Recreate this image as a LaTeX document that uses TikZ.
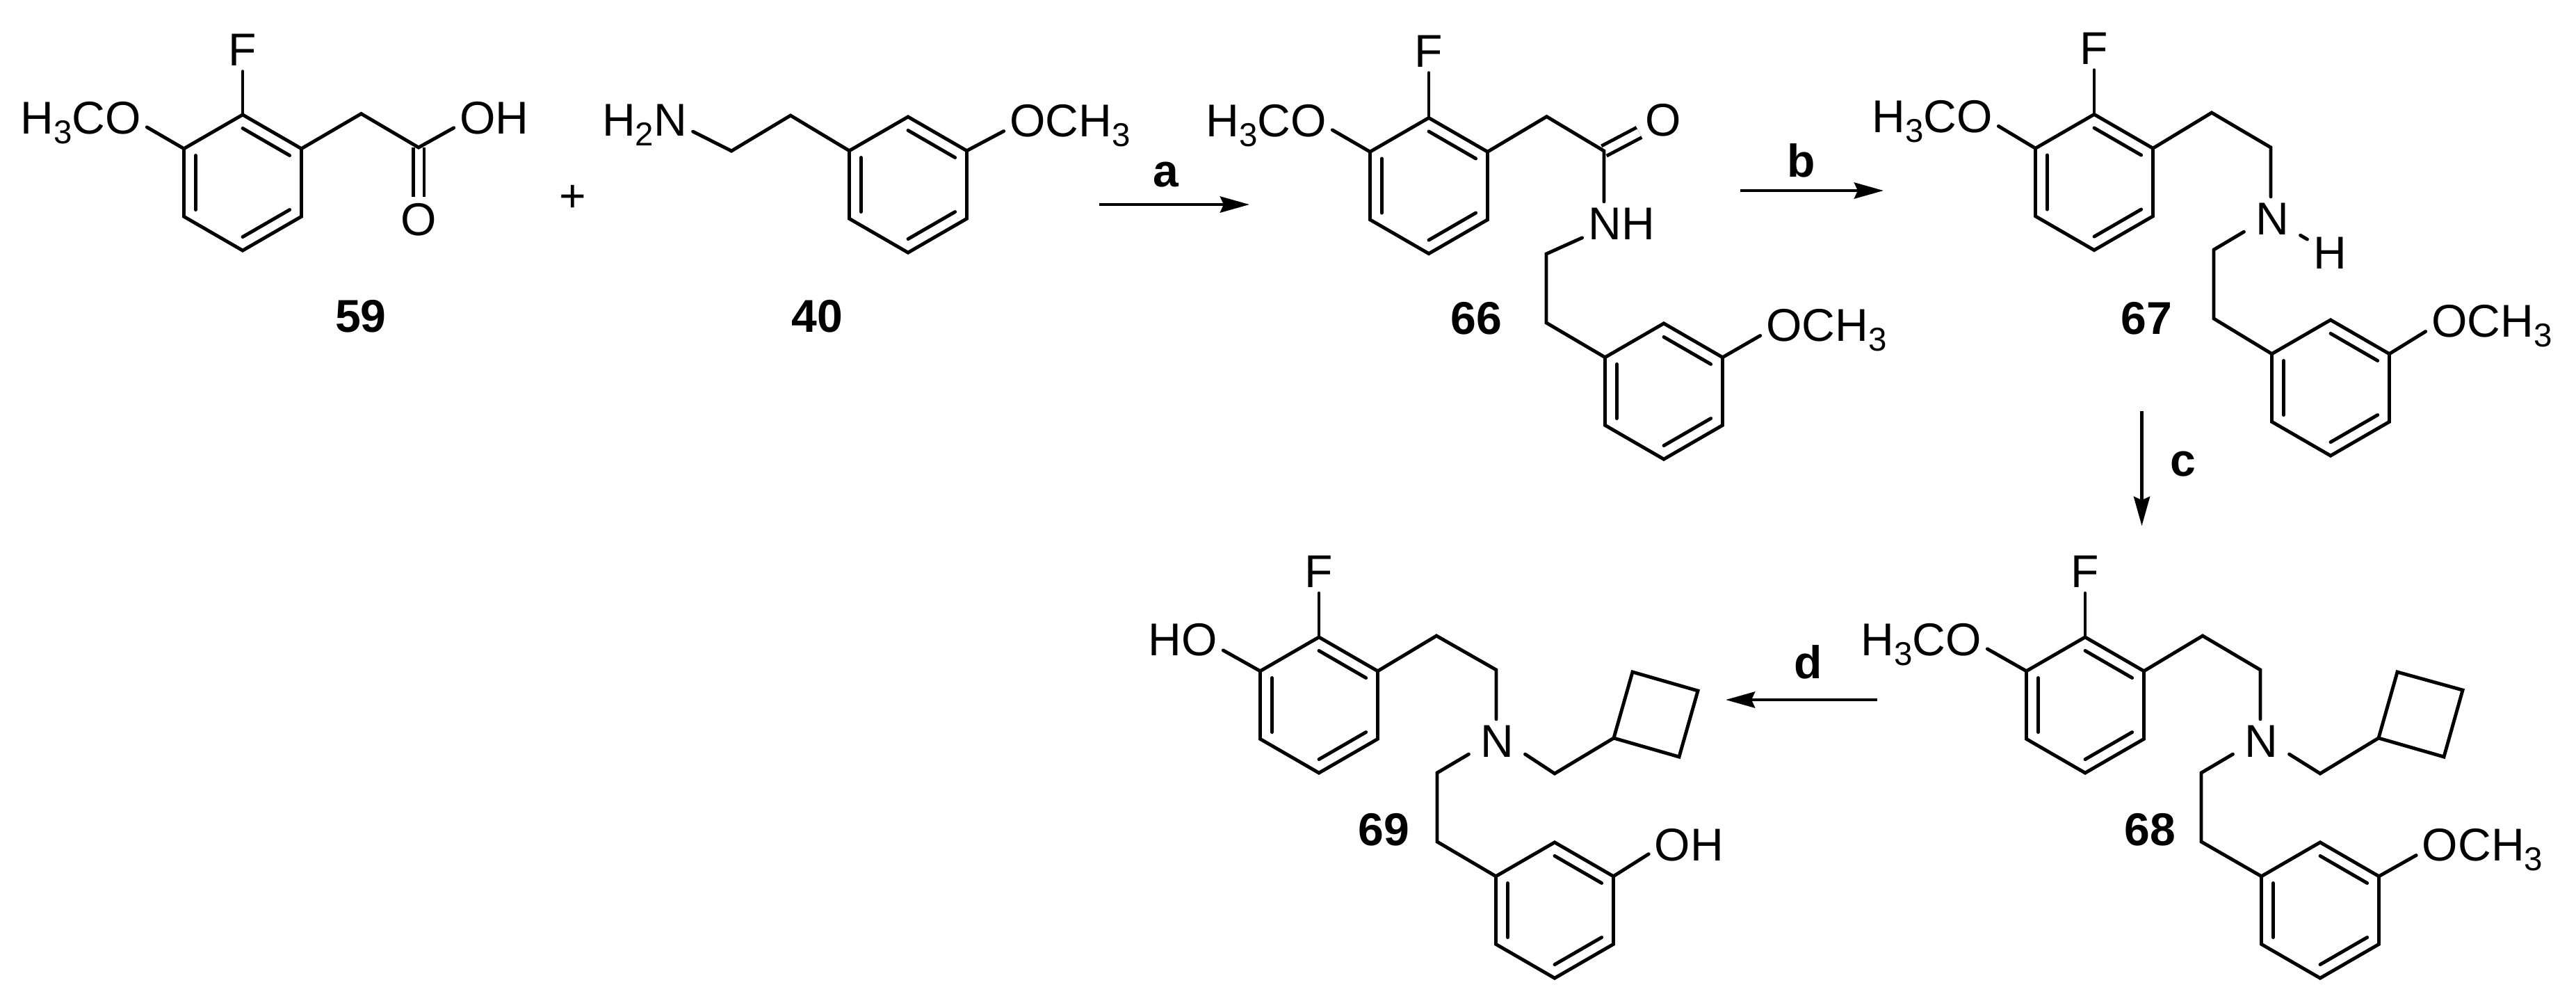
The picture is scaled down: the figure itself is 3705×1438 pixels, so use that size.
\documentclass[tikz,border=0pt]{standalone}
\usepackage{fontspec}
\setmainfont{Liberation Sans}
\usepackage{tikz}
\usetikzlibrary{arrows.meta,calc}

\newcommand{\lowidx}[1]{\raisebox{-4pt}{\fontsize{13.5}{13.5}\selectfont #1}}
\newcommand{\benzring}[3]{%
\begin{scope}[shift={(#2,#3)}]
\coordinate (#1t) at (0,-97.6); \coordinate (#1ur) at (84.5,-48.8); \coordinate (#1lr) at (84.5,48.8); \coordinate (#1b) at (0,97.6); \coordinate (#1ll) at (-84.5,48.8); \coordinate (#1ul) at (-84.5,-48.8);
\draw[bond] (#1t) -- (#1ur) -- (#1lr) -- (#1b) -- (#1ll) -- (#1ul) -- cycle;
\draw[bond] ($(0,0)!0.8!(#1t)$) -- ($(0,0)!0.8!(#1ur)$);
\draw[bond] ($(0,0)!0.8!(#1lr)$) -- ($(0,0)!0.8!(#1b)$);
\draw[bond] ($(0,0)!0.8!(#1ll)$) -- ($(0,0)!0.8!(#1ul)$);
\end{scope}}

\tikzset{
  bond/.style={line width=1.4pt, line cap=round},
  dbond/.style={line width=1.4pt, double, double distance=.11cm},
  atom/.style={anchor=base, inner sep=.08cm, font=\fontsize{18.8}{20}\selectfont},
  amine/.style={atom, inner xsep=.16cm},
  cmpd/.style={anchor=base, inner sep=0pt, font=\fontsize{18.8}{20}\selectfont\bfseries},
  rxn/.style={line width=1.4pt, -{Stealth[length=.42cm,width=.23cm,inset=.05cm]}}
}

\begin{document}
\begin{tikzpicture}[x=0.01cm,y=-0.01cm]
\useasboundingbox (0,0) rectangle (3705,1438);

% 59
\benzring{ra}{349}{262.5}
\node[atom] (f59) at (349,94) {F}; \node[atom] (ome59) at (116,192) {H\lowidx{3}CO}; \node[atom] (oh59) at (711,192) {OH}; \node[atom] (o59) at (602,338) {O};
\coordinate (ka59) at (519.5,163.5); \coordinate (kb59) at (602,212);
\draw[dbond] (kb59) -- (o59);
\draw[bond] (rat) -- (f59); \draw[bond] (raul) -- (ome59.-4); \draw[bond] (raur) -- (ka59) -- (kb59) -- (oh59.194);
\node[cmpd] (n59) at (519,477) {59};
\node[atom, anchor=center] (plus) at (824,285) {+};

% 40
\benzring{rb}{1306}{265.5}
\node[atom] (nh40) at (927,195) {H\lowidx{2}N}; \node[atom] (ome40) at (1539,196) {OCH\lowidx{3}};
\coordinate (ka40) at (1052,217); \coordinate (kb40) at (1137,166);
\draw[bond] (nh40.-8) -- (ka40) -- (kb40) -- (rbul); \draw[bond] (rbur) -- (ome40.185);
\node[cmpd] (n40) at (1175,477) {40};

% a
\coordinate (aa) at (1581,294); \coordinate (ab) at (1797,294);
\draw[rxn] (aa) -- (ab);
\node[cmpd] (la) at (1677,268) {a};

% 66
\benzring{rc}{2055}{267}
\benzring{rd}{2393}{562.5}
\node[atom] (f66) at (2055,96) {F}; \node[atom] (ome66) at (1821,196) {H\lowidx{3}CO}; \node[atom] (o66) at (2392,195) {O}; \node[atom] (nh66) at (2332,344) {NH}; \node[atom] (om66) at (2627,490) {OCH\lowidx{3}};
\coordinate (ka66) at (2224.5,167.6); \coordinate (kb66) at (2307,217); \coordinate (kc66) at (2224,365); \coordinate (kd66) at (2224,464);
\draw[dbond] (kb66) -- (o66);
\draw[bond] (rct) -- (f66); \draw[bond] (rcul) -- (ome66.-4); \draw[bond] (rcur) -- (ka66) -- (kb66) -- (kb66 |- nh66.north);
\draw[bond] (nh66.200) -- (kc66) -- (kd66) -- (rdul); \draw[bond] (rdur) -- (om66.185);
\node[cmpd] (n66) at (2123,480) {66};

% b
\coordinate (ba) at (2503,274); \coordinate (bb) at (2709,274);
\draw[rxn] (ba) -- (bb);
\node[cmpd] (lb) at (2591,254) {b};

% 67
\benzring{re}{3012}{262}
\benzring{rf}{3352}{557.5}
\node[atom] (f67) at (3012,92) {F}; \node[atom] (ome67) at (2779,190.5) {H\lowidx{3}CO}; \node[amine] (n67) at (3268,337) {N}; \node[atom] (h67) at (3351,386) {H}; \node[atom] (om67) at (3584,484) {OCH\lowidx{3}};
\coordinate (ka67) at (3181,162); \coordinate (kb67) at (3266,212); \coordinate (kc67) at (3184,359); \coordinate (kd67) at (3184,458);
\draw[bond] (ret) -- (f67); \draw[bond] (reul) -- (ome67.-4); \draw[bond] (reur) -- (ka67) -- (kb67) -- (kb67 |- n67.north);
\draw[bond] (n67.205) -- (kc67) -- (kd67) -- (rful); \draw[bond] (rfur) -- (om67.185);
\draw[bond] (n67) -- (h67);
\node[cmpd] (n67l) at (3087,480) {67};

% c
\coordinate (ca) at (3080.5,591); \coordinate (cb) at (3080.5,756);
\draw[rxn] (ca) -- (cb);
\node[cmpd] (lc) at (3140,684) {c};

% 68
\benzring{rg}{2999}{1013.5}
\benzring{rh}{3337}{1308.5}
\node[atom] (f68) at (2999,844) {F}; \node[atom] (ome68) at (2763,942) {H\lowidx{3}CO}; \node[amine] (n68) at (3252,1088) {N}; \node[atom] (om68) at (3570.5,1237) {OCH\lowidx{3}};
\coordinate (ka68) at (3168,914); \coordinate (kb68) at (3251,963); \coordinate (kc68) at (3166,1111); \coordinate (kd68) at (3166,1210); \coordinate (ke68) at (3337,1112);
\coordinate (qa68) at (3421,1061); \coordinate (qb68) at (3448,966); \coordinate (qc68) at (3542,992); \coordinate (qd68) at (3515,1088);
\draw[bond] (rgt) -- (f68); \draw[bond] (rgul) -- (ome68.-4); \draw[bond] (rgur) -- (ka68) -- (kb68) -- (kb68 |- n68.north);
\draw[bond] (n68.205) -- (kc68) -- (kd68) -- (rhul); \draw[bond] (rhur) -- (om68.185);
\draw[bond] (n68.-25) -- (ke68) -- (qa68); \draw[bond] (qa68) -- (qb68) -- (qc68) -- (qd68) -- cycle;
\node[cmpd] (n68l) at (3092,1215) {68};

% d
\coordinate (da) at (2700,1006); \coordinate (db) at (2482,1006);
\draw[rxn] (da) -- (db);
\node[cmpd] (ld) at (2601,975) {d};

% 69
\benzring{ri}{1897}{1013.5}
\benzring{rj}{2236}{1308.5}
\node[atom] (f69) at (1897,844) {F}; \node[atom] (oh69) at (1701,942) {HO}; \node[amine] (n69) at (2153,1088) {N}; \node[atom] (ohb69) at (2429.5,1237) {OH};
\coordinate (ka69) at (2066,914); \coordinate (kb69) at (2152,963); \coordinate (kc69) at (2067,1111); \coordinate (kd69) at (2067,1210); \coordinate (ke69) at (2236,1112);
\coordinate (qa69) at (2321,1061); \coordinate (qb69) at (2348,966); \coordinate (qc69) at (2442,993); \coordinate (qd69) at (2415,1088);
\draw[bond] (rit) -- (f69); \draw[bond] (riul) -- (oh69.-15); \draw[bond] (riur) -- (ka69) -- (kb69) -- (kb69 |- n69.north);
\draw[bond] (n69.205) -- (kc69) -- (kd69) -- (rjul); \draw[bond] (rjur) -- (ohb69.193);
\draw[bond] (n69.-25) -- (ke69) -- (qa69); \draw[bond] (qa69) -- (qb69) -- (qc69) -- (qd69) -- cycle;
\node[cmpd] (n69l) at (1990,1215) {69};
\end{tikzpicture}
\end{document}
